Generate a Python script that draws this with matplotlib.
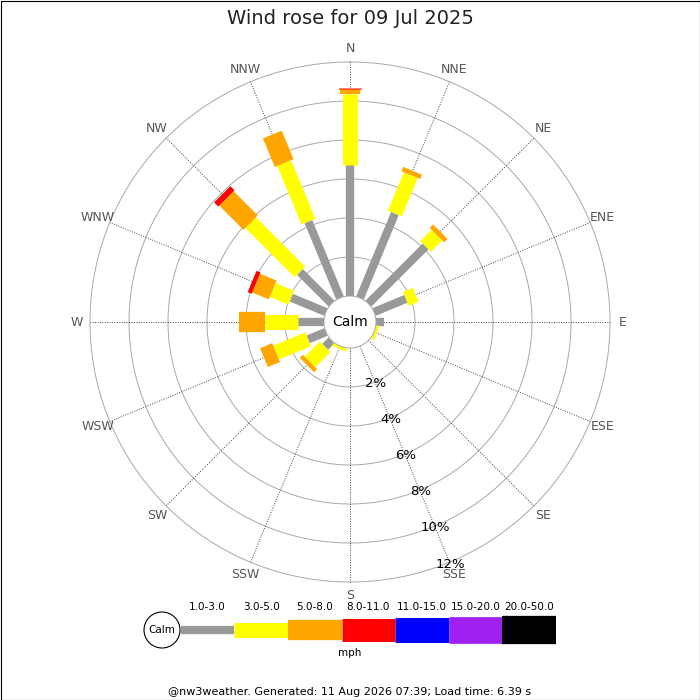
import numpy as np
import matplotlib
matplotlib.use('Agg')
import matplotlib.pyplot as plt
from matplotlib.patches import Circle, Rectangle

# wind rose data, % of time per direction and speed bin
directions = ['N', 'NNE', 'NE', 'ENE', 'E', 'ESE', 'SE', 'SSE',
              'S', 'SSW', 'SW', 'WSW', 'W', 'WNW', 'NW', 'NNW']
speed_bins = ['1.0-3.0', '3.0-5.0', '5.0-8.0', '8.0-11.0',
              '11.0-15.0', '15.0-20.0', '20.0-50.0']
bin_colors = ['#999999', '#ffff00', '#ffa500', '#ff0000',
              '#0000ff', '#a020f0', '#000000']
bin_widths_px = [8.3, 15, 20.3, 23, 25, 26.7, 28.3]

pct_1_3 = [6.72, 4.69, 4.15, 1.77, 0.41, 0, 0, 0, 0, 0, 0.47, 0.99, 1.32, 1.93, 2.30, 4.24]
pct_3_5 = [3.62, 2.13, 0.82, 0.54, 0, 0.15, 0, 0, 0, 0.15, 1.10, 1.78, 1.71, 1.03, 3.57, 3.25]
pct_5_8 = [0.26, 0.24, 0.25, 0, 0, 0, 0, 0, 0, 0, 0.22, 0.67, 1.33, 0.92, 1.76, 1.58]
pct_8_11 = [0.07, 0, 0, 0, 0, 0, 0, 0, 0, 0, 0, 0, 0, 0.22, 0.30, 0]
series = [pct_1_3, pct_3_5, pct_5_8, pct_8_11]

ring_levels = [2, 4, 6, 8, 10, 12]
title = 'Wind rose for 09 Jul 2025'
footer = '@nw3weather. Generated: 11 Aug 2026 07:39; Load time: 6.39 s'

PX = 0.72  # points per pixel at 100 dpi
calm_r = 26 / 19.5  # calm hole radius in % units

fig = plt.figure(figsize=(7, 7), dpi=100)

ax = fig.add_axes([90 / 700, 118 / 700, 520 / 700, 520 / 700], projection='polar')
ax.set_theta_zero_location('N')
ax.set_theta_direction(-1)
ax.set_rorigin(-calm_r)
ax.set_ylim(0, 12)
ax.axis('off')

thetas = np.deg2rad(np.arange(16) * 22.5)
circ = np.linspace(0, 2 * np.pi, 721)

for r in ring_levels:
    ax.plot(circ, [r] * len(circ), color='#aaaaaa', lw=0.72, zorder=1, clip_on=False)
for th in thetas:
    ax.plot([th, th], [0, 12], color='#444444', lw=0.7,
            linestyle=(0, (1, 1.5)), zorder=1, clip_on=False)

# stacked bars drawn as thick radial lines
base = np.zeros(16)
for vals, col, w in zip(series, bin_colors, bin_widths_px):
    for i, v in enumerate(vals):
        if v > 0:
            ax.plot([thetas[i], thetas[i]], [base[i], base[i] + v], color=col,
                    lw=w * PX, solid_capstyle='butt', zorder=3)
    base += np.array(vals)

for th, name in zip(thetas, directions):
    ax.text(th, 12.67, name, ha='center', va='center', fontsize=9, color='#555555')

sse = np.deg2rad(157.5)
for r in ring_levels:
    ax.text(sse, r + 0.1, f'{r}%', ha='center', va='center', fontsize=9.5, color='black', zorder=5)

# overlay in pixel coordinates
ov = fig.add_axes([0, 0, 1, 1])
ov.set_xlim(0, 700)
ov.set_ylim(700, 0)
ov.axis('off')

ov.add_patch(Circle((350, 322), 26, fc='white', ec='#aaaaaa', lw=0.72, zorder=4))
ov.text(350, 322, 'Calm', ha='center', va='center', fontsize=10, zorder=5)

ov.text(350, 18, title, ha='center', va='center', fontsize=14, color='#222222')

# speed legend
ov.add_patch(Circle((162, 630), 18, fc='white', ec='black', lw=0.8))
ov.text(162, 630, 'Calm', ha='center', va='center', fontsize=7.5)
seg = 53.6
x0 = 180.7
for k, (lab, col, w) in enumerate(zip(speed_bins, bin_colors, bin_widths_px)):
    xa = x0 + k * seg
    ov.plot([xa, xa + seg], [629.5, 629.5], color=col, lw=w * PX, solid_capstyle='butt')
    ov.text(xa + seg / 2, 607, lab, ha='center', va='center', fontsize=7.5)
ov.text(350, 653, 'mph', ha='center', va='center', fontsize=7.5)

ov.text(350, 692, footer, ha='center', va='center', fontsize=8)
ov.add_patch(Rectangle((0.5, 0.5), 699, 699, fill=False, ec='black', lw=0.8))

fig.savefig('out.png', dpi=100)
